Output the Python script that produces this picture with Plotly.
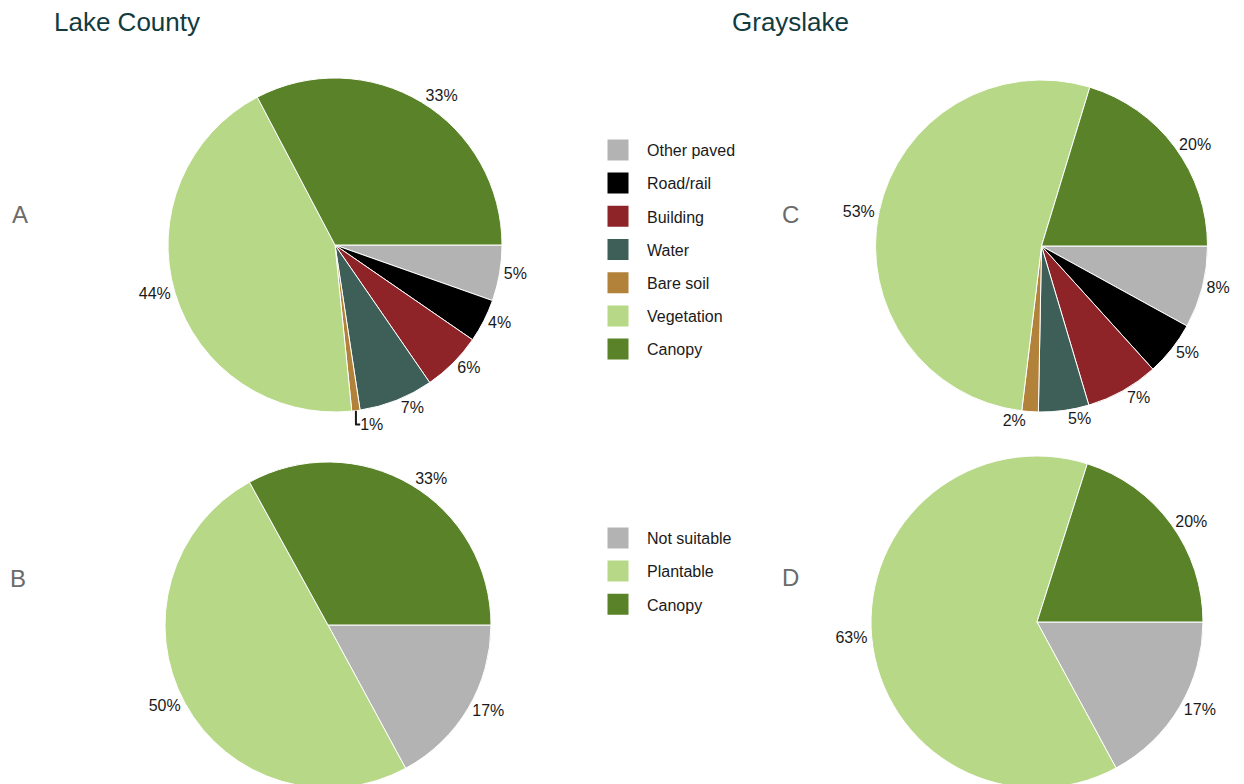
import plotly.graph_objects as go

# ---- data ----
cover_labels = ["Canopy", "Vegetation", "Bare soil", "Water", "Building", "Road/rail", "Other paved"]
cover_colors = ["#5a8228", "#b7d886", "#b2823a", "#3e5e58", "#8e2328", "#000000", "#b3b3b3"]
lake_cover = [32.7, 43.9, 0.8, 7.2, 5.8, 4.2, 5.4]
gray_cover = [20.3, 52.8, 1.6, 4.9, 7.1, 5.3, 8.0]

plant_labels = ["Canopy", "Plantable", "Not suitable"]
plant_colors = ["#5a8228", "#b7d886", "#b3b3b3"]
lake_plant = [33.0, 49.9, 17.1]
gray_plant = [20.1, 62.8, 17.1]

titles = ["Lake County", "Grayslake"]
panel_letters = ["A", "B", "C", "D"]

W, H = 1244, 784
OX, OY = 8, 8          # page offset of the plot div
FONT = "Liberation Sans, Arial, sans-serif"

def fx(X):
    return (X - OX) / W

def fy(Y):
    return 1 - (Y - OY) / H

def dom(cx, cy, r):
    return dict(x=[fx(cx - r), fx(cx + r)],
                y=[max(0, fy(cy + r)), min(1, fy(cy - r))])

fig = go.Figure()

pies = [
    (cover_labels, lake_cover, cover_colors, dom(335, 245, 167)),
    (cover_labels, gray_cover, cover_colors, dom(1041.5, 246, 166)),
    (plant_labels, lake_plant, plant_colors, dom(328, 625, 163)),
    (plant_labels, gray_plant, plant_colors, dom(1037, 622, 166)),
]
for labels, vals, cols, d in pies:
    # clockwise from 3 o'clock, starting with the last category
    fig.add_trace(go.Pie(
        labels=labels[::-1], values=vals[::-1], sort=False, direction="clockwise",
        rotation=90, marker=dict(colors=cols[::-1], line=dict(color="white", width=1)),
        textposition="outside", texttemplate="%{percent:.0%}",
        textfont=dict(size=16, color="#1a1a1a", family=FONT),
        domain=d, showlegend=False, hoverinfo="label+percent",
    ))

# legend entries (reverse order, as in the reference)
for lab, col in list(zip(cover_labels, cover_colors))[::-1]:
    fig.add_trace(go.Scatter(x=[None], y=[None], mode="markers", name=lab,
                             legendgroup="c_" + lab, legend="legend",
                             marker=dict(symbol="square", size=30, color=col,
                                         line=dict(color=col, width=5))))
for lab, col in list(zip(plant_labels, plant_colors))[::-1]:
    fig.add_trace(go.Scatter(x=[None], y=[None], mode="markers", name=lab,
                             legendgroup="p_" + lab, legend="legend2",
                             marker=dict(symbol="square", size=30, color=col,
                                         line=dict(color=col, width=5))))

ann = []
for t, X in zip(titles, [52, 730]):
    ann.append(dict(text=t, x=fx(X), y=fy(22), xref="paper", yref="paper",
                    xanchor="left", yanchor="middle", showarrow=False,
                    font=dict(size=26, color="#113b3f", family=FONT)))
for letter, (px, py) in zip(panel_letters, [(20, 214), (18, 578), (790, 214), (790, 577)]):
    ann.append(dict(text=letter, x=fx(px), y=fy(py), xref="paper", yref="paper",
                    xanchor="center", yanchor="middle", showarrow=False,
                    font=dict(size=24, color="#6b6b6b", family=FONT)))

legend_common = dict(itemsizing="trace", itemwidth=48, tracegroupgap=9.4,
                     font=dict(size=16, color="#1a1a1a", family=FONT),
                     bgcolor="rgba(0,0,0,0)", xanchor="left", yanchor="top")

fig.update_layout(
    width=W, height=H, margin=dict(l=0, r=0, t=0, b=0, autoexpand=False),
    paper_bgcolor="white", plot_bgcolor="white",
    xaxis=dict(visible=False), yaxis=dict(visible=False),
    annotations=ann,
    legend=dict(x=fx(589), y=fy(133), **legend_common),
    legend2=dict(x=fx(589), y=fy(521), **legend_common),
)

fig.write_html("out.html")
